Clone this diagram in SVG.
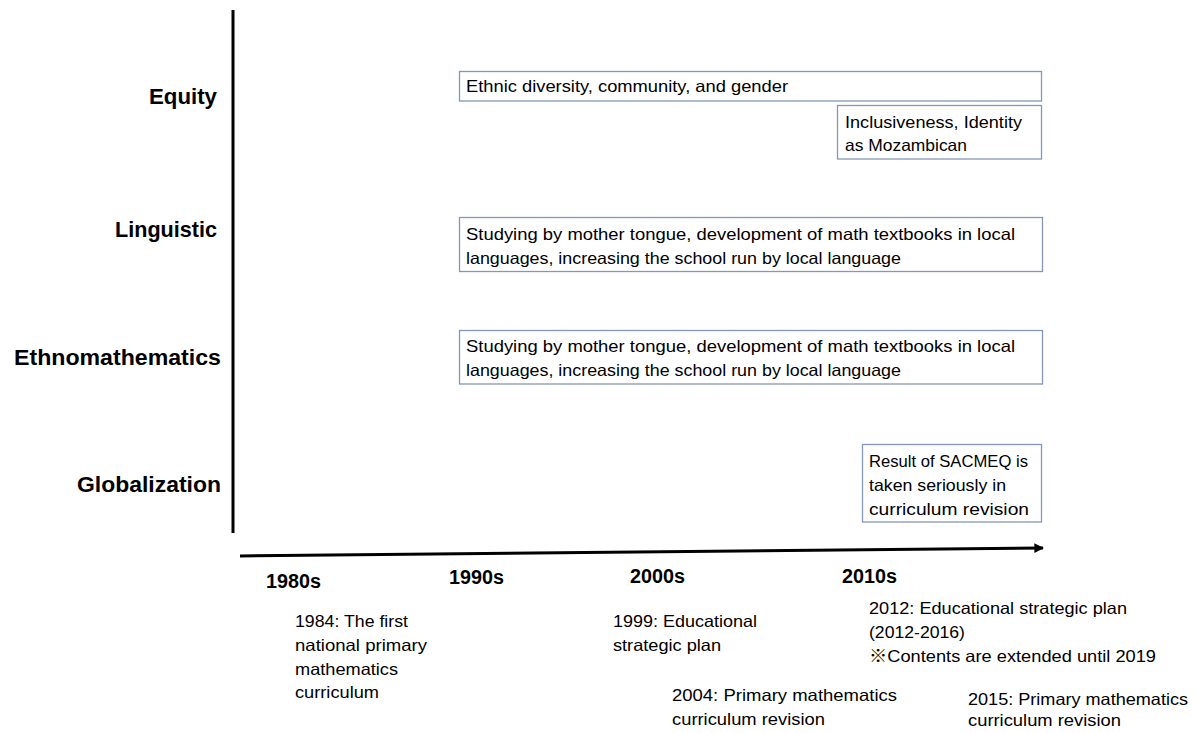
<svg xmlns="http://www.w3.org/2000/svg" width="1201" height="733" viewBox="0 0 1201 733">
  <style>
    .cat { font-family: "Liberation Sans", Arial, sans-serif; font-weight: bold; font-size: 22px; fill: #000; text-anchor: end; }
    .dec { font-family: "Liberation Sans", Arial, sans-serif; font-weight: bold; font-size: 20px; fill: #000; }
    .txt { font-family: "Liberation Sans", "Noto Sans CJK JP", Arial, sans-serif; font-size: 16.5px; fill: #000; }
    .box { fill: #fff; stroke: #8497b6; stroke-width: 1.3; }
    .axis { stroke: #000; stroke-width: 3; fill: none; }
  </style>
  <defs>
    <marker id="arrow" viewBox="0 0 10 10" refX="9" refY="5" markerWidth="3.2" markerHeight="3.2" orient="auto" markerUnits="strokeWidth">
      <path d="M0,0 L10,5 L0,10 z" fill="#000"/>
    </marker>
  </defs>
  <rect width="1201" height="733" fill="#fff"/>

  <!-- axes -->
  <g id="connectors">
    <line class="axis" x1="233" y1="10" x2="233" y2="533"/>
    <line class="axis" x1="240" y1="556" x2="1043" y2="548" marker-end="url(#arrow)"/>
  </g>

  <!-- category labels -->
  <g id="categories">
    <text class="cat" x="217" y="104" textLength="68" lengthAdjust="spacingAndGlyphs">Equity</text>
    <text class="cat" x="217" y="237" textLength="102" lengthAdjust="spacingAndGlyphs">Linguistic</text>
    <text class="cat" x="221" y="365" textLength="207" lengthAdjust="spacingAndGlyphs">Ethnomathematics</text>
    <text class="cat" x="221" y="492" textLength="144" lengthAdjust="spacingAndGlyphs">Globalization</text>
  </g>

  <!-- policy boxes -->
  <g id="box-equity-1">
    <rect class="box" x="459.5" y="71.5" width="582" height="29.5"/>
    <text class="txt" x="466" y="92" textLength="322" lengthAdjust="spacingAndGlyphs">Ethnic diversity, community, and gender</text>
  </g>
  <g id="box-equity-2">
    <rect class="box" x="837.5" y="105.5" width="204" height="53.5"/>
    <text class="txt" x="845" y="128" textLength="177" lengthAdjust="spacingAndGlyphs">Inclusiveness, Identity</text>
    <text class="txt" x="845" y="151" textLength="122" lengthAdjust="spacingAndGlyphs">as Mozambican</text>
  </g>
  <g id="box-linguistic">
    <rect class="box" x="459.5" y="217.5" width="583" height="54"/>
    <text class="txt" x="466" y="240" textLength="549" lengthAdjust="spacingAndGlyphs">Studying by mother tongue, development of math textbooks in local</text>
    <text class="txt" x="466" y="264" textLength="435" lengthAdjust="spacingAndGlyphs">languages, increasing the school run by local language</text>
  </g>
  <g id="box-ethnomathematics">
    <rect class="box" x="459.5" y="330.5" width="583" height="53.5"/>
    <text class="txt" x="466" y="352" textLength="549" lengthAdjust="spacingAndGlyphs">Studying by mother tongue, development of math textbooks in local</text>
    <text class="txt" x="466" y="376" textLength="435" lengthAdjust="spacingAndGlyphs">languages, increasing the school run by local language</text>
  </g>
  <g id="box-globalization">
    <rect class="box" x="862.5" y="444.5" width="179" height="77.5"/>
    <text class="txt" x="869" y="467" textLength="159" lengthAdjust="spacingAndGlyphs">Result of SACMEQ is</text>
    <text class="txt" x="869" y="491" textLength="137" lengthAdjust="spacingAndGlyphs">taken seriously in</text>
    <text class="txt" x="869" y="515" textLength="160" lengthAdjust="spacingAndGlyphs">curriculum revision</text>
  </g>

  <!-- decades -->
  <g id="decades">
    <text class="dec" x="266" y="588" textLength="55" lengthAdjust="spacingAndGlyphs">1980s</text>
    <text class="dec" x="449" y="584" textLength="55" lengthAdjust="spacingAndGlyphs">1990s</text>
    <text class="dec" x="630" y="583" textLength="55" lengthAdjust="spacingAndGlyphs">2000s</text>
    <text class="dec" x="842" y="583" textLength="55" lengthAdjust="spacingAndGlyphs">2010s</text>
  </g>

  <!-- milestones -->
  <g id="event-1984">
    <text class="txt" x="295" y="627" textLength="113" lengthAdjust="spacingAndGlyphs">1984: The first</text>
    <text class="txt" x="295" y="651" textLength="132" lengthAdjust="spacingAndGlyphs">national primary</text>
    <text class="txt" x="295" y="675" textLength="103" lengthAdjust="spacingAndGlyphs">mathematics</text>
    <text class="txt" x="295" y="698" textLength="84" lengthAdjust="spacingAndGlyphs">curriculum</text>
  </g>
  <g id="event-1999">
    <text class="txt" x="613" y="627" textLength="144" lengthAdjust="spacingAndGlyphs">1999: Educational</text>
    <text class="txt" x="613" y="651" textLength="108" lengthAdjust="spacingAndGlyphs">strategic plan</text>
  </g>
  <g id="event-2004">
    <text class="txt" x="672" y="701" textLength="225" lengthAdjust="spacingAndGlyphs">2004: Primary mathematics</text>
    <text class="txt" x="672" y="725" textLength="153" lengthAdjust="spacingAndGlyphs">curriculum revision</text>
  </g>
  <g id="event-2012">
    <text class="txt" x="869" y="614" textLength="258" lengthAdjust="spacingAndGlyphs">2012:  Educational strategic plan</text>
    <text class="txt" x="869" y="638" textLength="96" lengthAdjust="spacingAndGlyphs">(2012-2016)</text>
    <text class="txt" x="869" y="662" textLength="287" lengthAdjust="spacingAndGlyphs">※Contents are extended until 2019</text>
  </g>
  <g id="event-2015">
    <text class="txt" x="968" y="705" textLength="220" lengthAdjust="spacingAndGlyphs">2015: Primary mathematics</text>
    <text class="txt" x="968" y="726" textLength="153" lengthAdjust="spacingAndGlyphs">curriculum revision</text>
  </g>
</svg>
